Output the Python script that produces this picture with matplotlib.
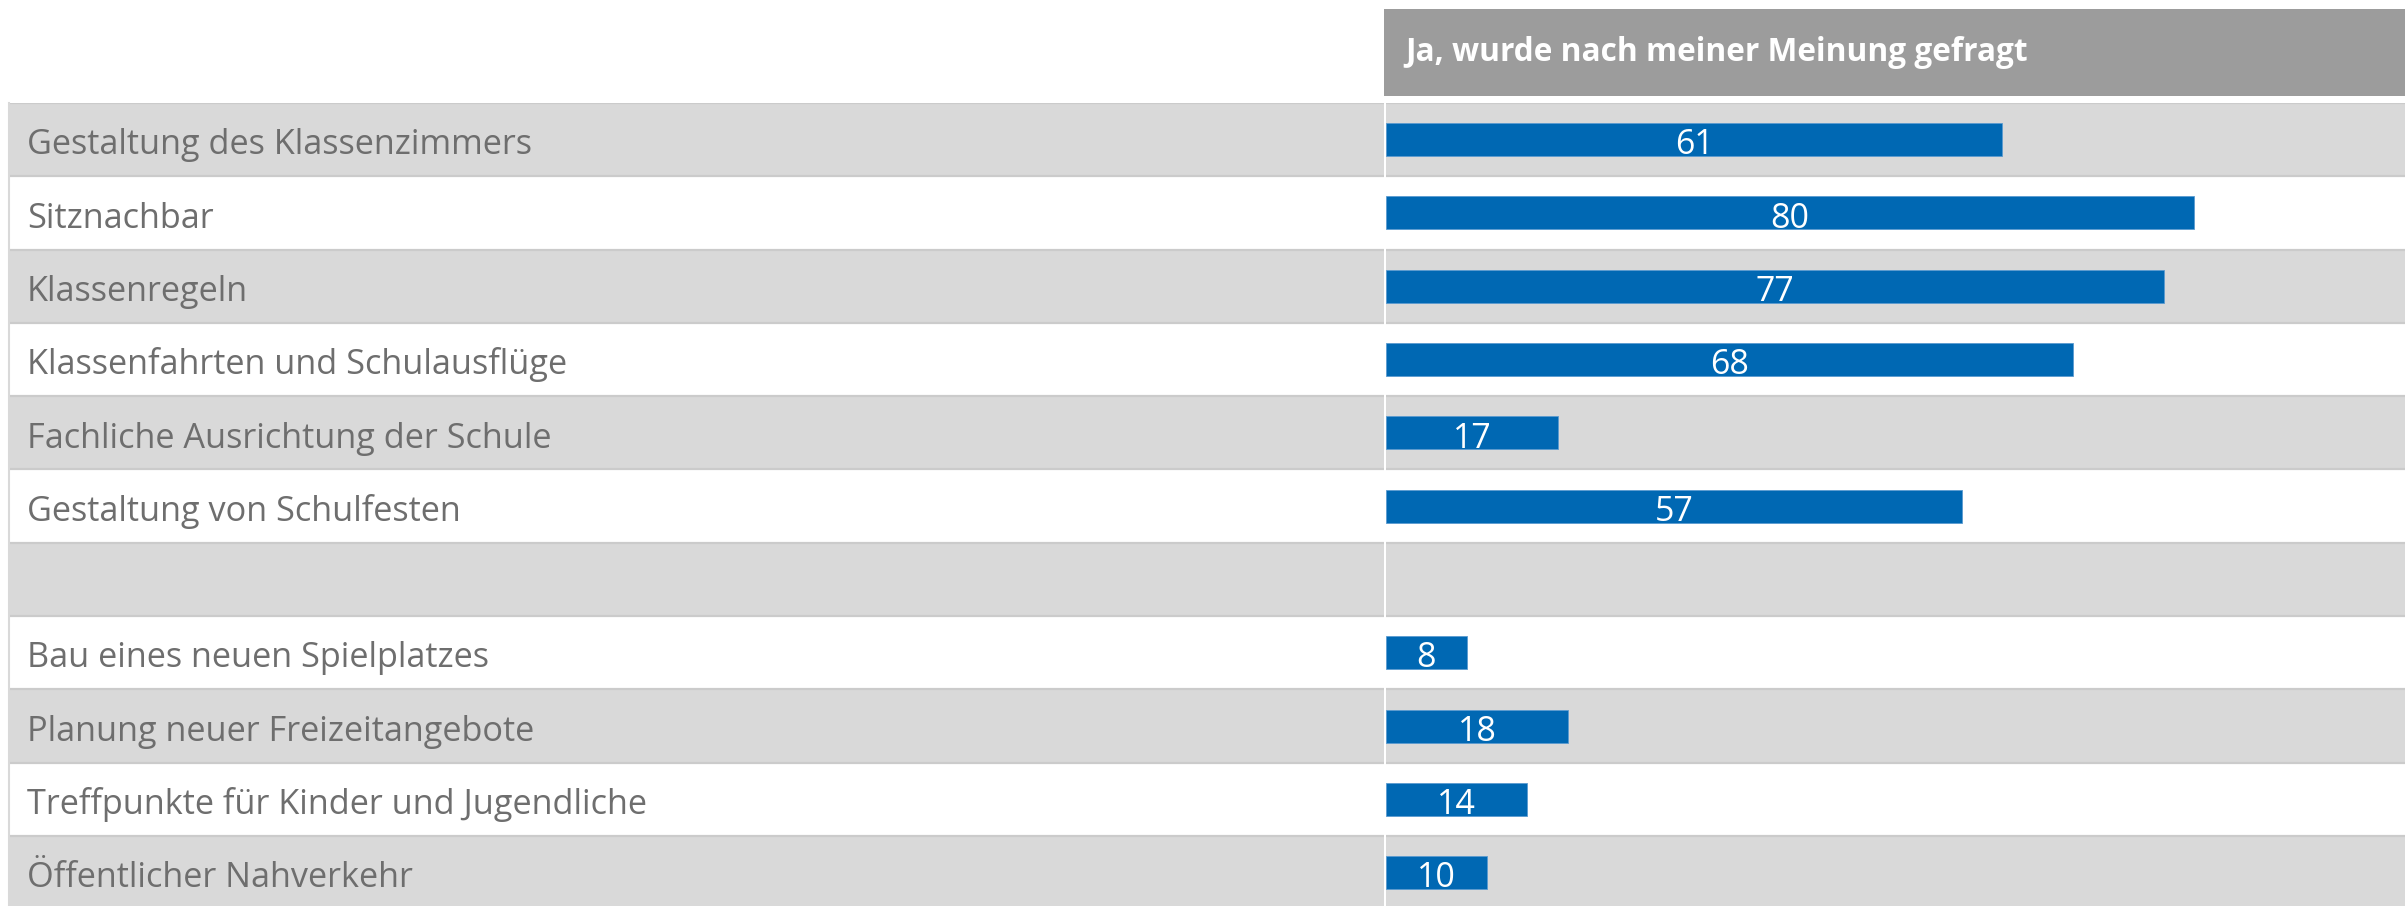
import numpy as np
import matplotlib
matplotlib.use("Agg")
import matplotlib.pyplot as plt

W, H = 2405, 906
DPI = 100

categories = [
    "Gestaltung des Klassenzimmers",
    "Sitznachbar",
    "Klassenregeln",
    "Klassenfahrten und Schulausflüge",
    "Fachliche Ausrichtung der Schule",
    "Gestaltung von Schulfesten",
    "",
    "Bau eines neuen Spielplatzes",
    "Planung neuer Freizeitangebote",
    "Treffpunkte für Kinder und Jugendliche",
    "Öffentlicher Nahverkehr",
]
values = [61, 80, 77, 68, 17, 57, None, 8, 18, 14, 10]
header = "Ja, wurde nach meiner Meinung gefragt"

BLUE = "#0068b3"
ROW_GRAY = "#d9d9d9"
LINE_GRAY = "#cbcbcb"
HEAD_GRAY = "#9c9c9c"
TEXT_GRAY = "#6e6e6e"
FONT = "Open Sans"

plt.rcParams["font.family"] = [FONT, "DejaVu Sans"]

fig = plt.figure(figsize=(W / DPI, H / DPI), dpi=DPI)
fig.patch.set_facecolor("white")

# table geometry in pixels
top_px = 103
row_px = 73.3
lab_l, lab_r = 9, 1384
bar_l = 1386
n_visible = (H - top_px) / row_px
ylim = (-0.5 + n_visible, -0.5)
ax_h = (H - top_px) / H

ax_lab = fig.add_axes([lab_l / W, 0, (lab_r - lab_l) / W, ax_h])
ax = fig.add_axes([bar_l / W, 0, (W - bar_l) / W, ax_h])

for a in (ax_lab, ax):
    a.set_ylim(*ylim)
    for i in range(len(categories)):
        if i % 2 == 0:
            a.axhspan(i - 0.5, i + 0.5, color=ROW_GRAY, lw=0, zorder=0)
        a.axhline(i - 0.5, color=LINE_GRAY, lw=1.6, zorder=1)
    a.set_xticks([])
    a.set_yticks([])
    for s in a.spines.values():
        s.set_visible(False)

ax_lab.set_xlim(0, 1)
ax_lab.spines["left"].set_visible(True)
ax_lab.spines["left"].set_color(ROW_GRAY)
ax_lab.spines["left"].set_linewidth(1.5)

x_pad = (27 - lab_l) / (lab_r - lab_l)
for i, cat in enumerate(categories):
    ax_lab.text(x_pad, i + 0.2, cat, ha="left", va="baseline",
                fontsize=24.7, color=TEXT_GRAY, family=[FONT, "DejaVu Sans"])

ax.set_xlim(0, 100.9)
y = np.arange(len(categories))
vals = np.array([v if v is not None else 0 for v in values], dtype=float)
mask = np.array([v is not None for v in values])
ax.barh(y[mask], vals[mask], height=0.45, color=BLUE, edgecolor="#5b9bd0",
        linewidth=0.6, zorder=3)
for yi, v in zip(y[mask], vals[mask]):
    ax.text(v / 2, yi + 0.2, f"{int(v)}", ha="center", va="baseline",
            fontsize=24.5, color="white", zorder=4)

# header box
ax_head = fig.add_axes([1384 / W, 1 - 96 / H, 1 - 1384 / W, 87 / H])
ax_head.set_facecolor(HEAD_GRAY)
ax_head.set_xticks([])
ax_head.set_yticks([])
for s in ax_head.spines.values():
    s.set_visible(False)
ax_head.text((1405 - 1384) / (W - 1384), 0.5, header, ha="left", va="center",
             fontsize=22.8, fontweight="bold", color="white",
             transform=ax_head.transAxes)

fig.savefig("out.png", dpi=DPI, facecolor="white")
